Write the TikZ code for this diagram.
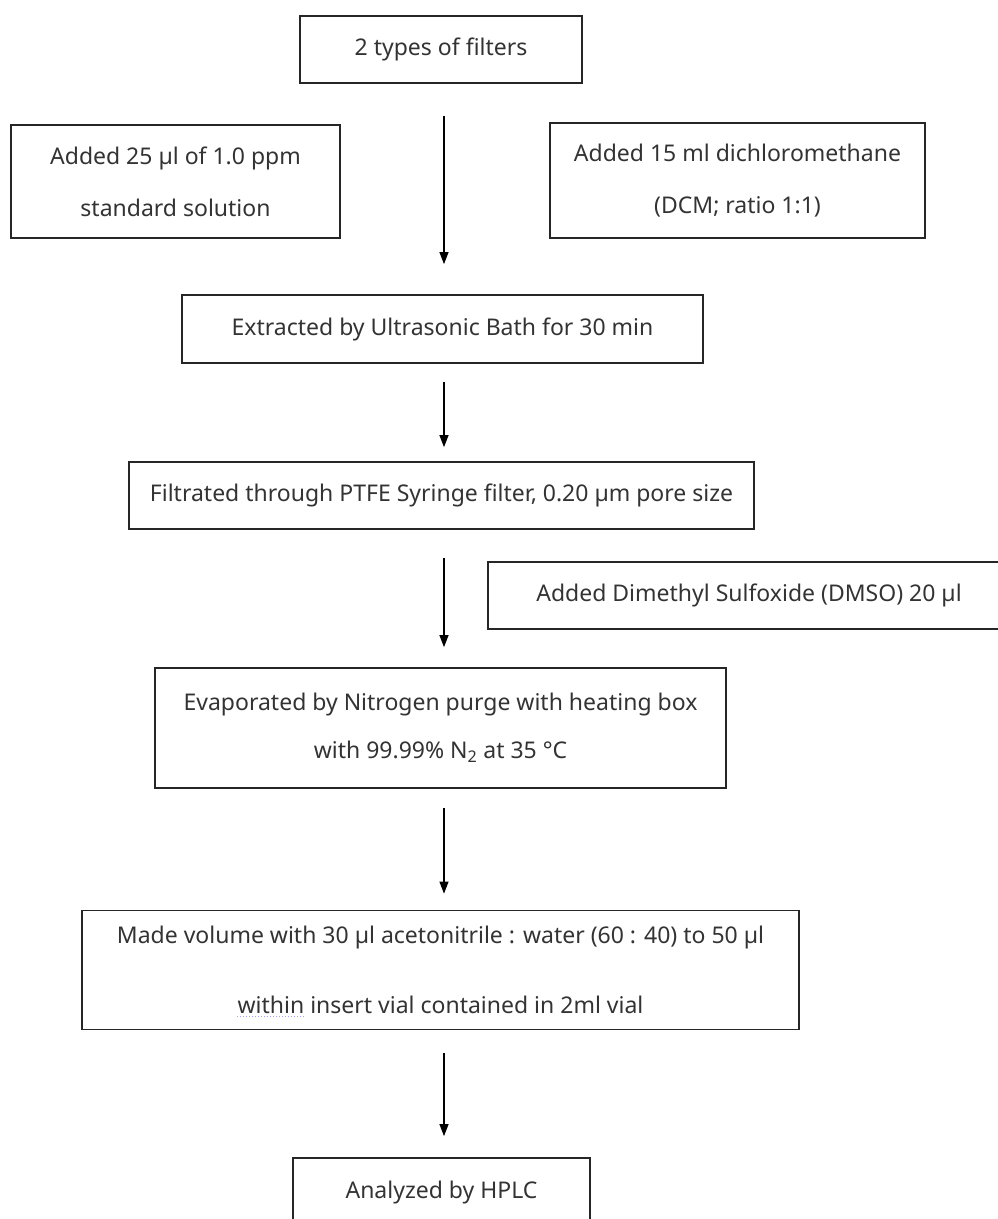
\documentclass[tikz,border=0pt]{standalone}
\usepackage{fontspec}
\setmainfont{Noto Sans}
\usetikzlibrary{arrows.meta}
\begin{document}
\begin{tikzpicture}[x=1pt,y=-1pt,
  box/.style={draw=black!85, line width=1.8pt, rectangle, inner sep=0pt, align=center, text=black!80},
  arr/.style={draw=black, line width=1.2pt, -{Triangle[length=12pt,width=9pt]}},
  f1/.style={font=\fontsize{23}{27}\selectfont},
  f52/.style={font=\fontsize{23}{52}\selectfont},
  f48/.style={font=\fontsize{23}{48}\selectfont},
  f70/.style={font=\fontsize{23}{70}\selectfont}]
\useasboundingbox (0,0) rectangle (998,1219);
\clip (0,0) rectangle (998,1219);
\coordinate (col) at (444,0);

\node[box,f1, minimum width=282pt, minimum height=67pt] (types) at (441,49.5) {2 types of filters};
\node[box,f52, minimum width=329pt, minimum height=113pt] (std) at (175.5,181.5) {Added 25 µl of 1.0 ppm\\standard solution};
\node[box,f52, minimum width=375pt, minimum height=115pt] (dcm) at (737.5,180.5) {Added 15 ml dichloromethane\\(DCM; ratio 1:1)};
\node[box,f1, minimum width=521pt, minimum height=68pt] (extr) at (442.5,329) {Extracted by Ultrasonic Bath for 30 min};
\node[box,f1, minimum width=625pt, minimum height=67pt] (filt) at (441.5,495.5) {Filtrated through PTFE Syringe filter, 0.20 µm pore size};
\node[box,f1, minimum width=522pt, minimum height=67pt] (dmso) at (749,595.5) {Added Dimethyl Sulfoxide (DMSO) 20 µl};
\node[box,f48, minimum width=571pt, minimum height=120pt] (evap) at (440.5,728) {Evaporated by Nitrogen purge with heating box\\with 99.99\% N\textsubscript{2} at 35 °C};
\node[box,f70, minimum width=717pt, minimum height=119pt] (made) at (440.5,970) {Made volume with 30 µl acetonitrile : water (60 : 40) to 50 µl\\within insert vial contained in 2ml vial};
\node[box,f1, minimum width=297pt, minimum height=70pt] (hplc) at (441.5,1193) {Analyzed by HPLC};

\draw[arr, shorten <=32pt, shorten >=30pt] (types.south -| col) -- (extr.north -| col);
\draw[arr, shorten <=18pt, shorten >=14pt] (extr.south -| col) -- (filt.north -| col);
\draw[arr, shorten <=28pt, shorten >=20pt] (filt.south -| col) -- (evap.north -| col);
\draw[arr, shorten <=19pt, shorten >=16pt] (evap.south -| col) -- (made.north -| col);
\draw[arr, shorten <=23pt, shorten >=21pt] (made.south -| col) -- (hplc.north -| col);

\coordinate (ula) at (237,1016);
\coordinate (ulb) at (305,1016);
\draw[blue!35, dotted, line width=1pt] (ula) -- (ulb);
\end{tikzpicture}
\end{document}
